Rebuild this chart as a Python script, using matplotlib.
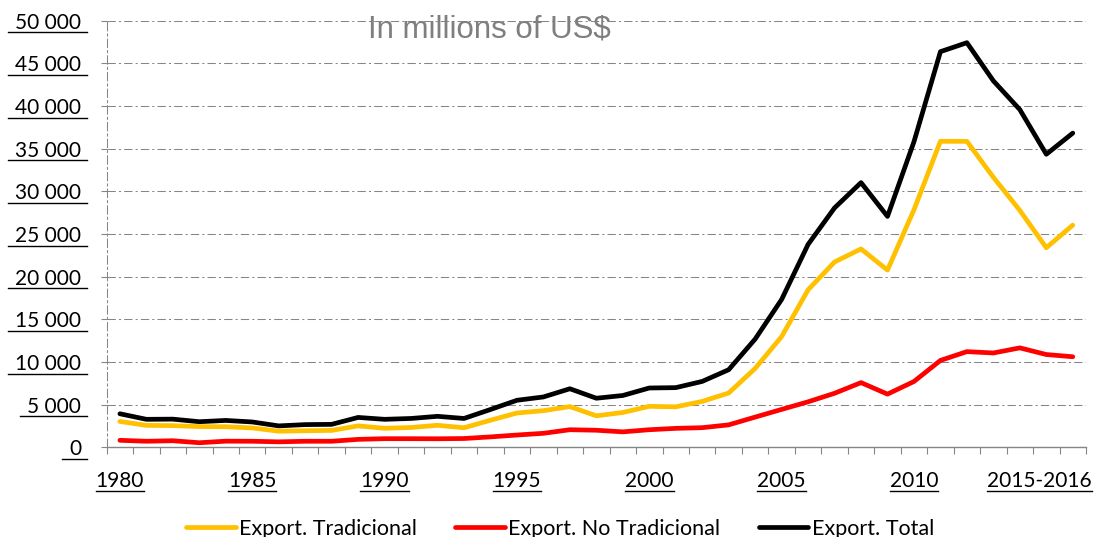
import matplotlib
matplotlib.use("Agg")
import matplotlib.pyplot as plt
from matplotlib.lines import Line2D
from matplotlib.ticker import FuncFormatter, FixedLocator
from matplotlib.transforms import ScaledTranslation

plt.rcParams['font.family'] = ['Lato', 'DejaVu Sans']

# Exportaciones por tipo, millones de US$
years = list(range(1980, 2017))
total = [3950, 3300, 3320, 3020, 3170, 2990, 2530, 2680, 2710, 3520,
         3300, 3400, 3650, 3400, 4450, 5530, 5920, 6880, 5770, 6090,
         6970, 7010, 7740, 9110, 12700, 17340, 23790, 28070, 31030, 27070,
         35820, 46370, 47420, 42950, 39580, 34350, 36830]
tradicional = [3050, 2590, 2560, 2450, 2430, 2290, 1910, 1960, 2000, 2530,
               2250, 2340, 2600, 2310, 3190, 4040, 4310, 4790, 3710, 4100,
               4820, 4760, 5400, 6380, 9260, 12990, 18470, 21730, 23260, 20780,
               27850, 35870, 35860, 31650, 27770, 23400, 26050]
no_tradicional = [840, 730, 790, 555, 740, 730, 660, 730, 730, 950,
                  1030, 1030, 1020, 1050, 1240, 1460, 1660, 2080, 2020, 1830,
                  2080, 2240, 2320, 2650, 3560, 4460, 5350, 6350, 7600, 6250,
                  7730, 10200, 11230, 11070, 11670, 10890, 10630]

label_years = [1980, 1985, 1990, 1995, 2000, 2005, 2010, 2015]
label_texts = ['1980', '1985', '1990', '1995', '2000', '2005', '2010', '2015-2016']

fig = plt.figure(figsize=(10.94, 5.37), dpi=100)
ax = fig.add_axes([0.0975, 0.1667, 0.8952, 0.7948])

x = list(range(len(years)))
lw = 3.4
ax.plot(x, tradicional, color='#FFC000', lw=lw, label='Export. Tradicional', solid_capstyle='round')
ax.plot(x, no_tradicional, color='#FF0000', lw=lw, label='Export. No Tradicional', solid_capstyle='round')
ax.plot(x, total, color='#000000', lw=lw, label='Export. Total', solid_capstyle='round')

ax.set_xlim(-0.5, len(years) - 0.5)
ax.set_ylim(0, 50000)
ax.set_yticks(range(0, 50001, 5000))
ax.yaxis.set_major_formatter(FuncFormatter(lambda v, p: f"{v:,.0f}".replace(",", " ")))

pos = [years.index(y) for y in label_years]
ax.xaxis.set_major_locator(FixedLocator(pos))
ax.set_xticklabels(label_texts)
ax.xaxis.set_minor_locator(FixedLocator([i - 0.5 for i in range(len(years) + 1)]))
ax.tick_params(axis='x', which='major', length=0, pad=17, labelsize=15)
ax.tick_params(axis='x', which='minor', length=5, width=0.8, color='#868686', direction='out')
ax.tick_params(axis='y', length=4.3, width=0.8, color='#868686', pad=14, labelsize=15)

ax.grid(axis='y', color='#868686', lw=0.75, linestyle=(0, (8, 3, 2, 3)))
ax.set_axisbelow(True)
for s in ['top', 'right']:
    ax.spines[s].set_visible(False)
ax.spines['bottom'].set_color('#868686')
ax.spines['bottom'].set_linewidth(1)
ax.spines['left'].set_color('#868686')
ax.spines['left'].set_linewidth(0.75)
ax.spines['left'].set_linestyle((0, (8, 3, 2, 3)))

fig.text(489.5 / 1094, 1 - 38 / 537, 'In millions of US$', ha='center', va='baseline',
         fontsize=22.5, color='#7F7F7F', family=['Liberation Sans', 'DejaVu Sans'])

fig.legend(loc='center', bbox_to_anchor=(560 / 1094, 1 - 529 / 537), ncol=3,
           frameon=False, fontsize=15.5, handlelength=2.3, handletextpad=0.15,
           columnspacing=1.8, borderaxespad=0, borderpad=0)

# la ultima etiqueta se corre un poco a la izquierda, como en el original
last = ax.get_xticklabels()[-1]
last.set_transform(last.get_transform() + ScaledTranslation(-5 / 72, 0, fig.dpi_scale_trans))

# subrayado de etiquetas (como en el original)
fig.canvas.draw()
r = fig.canvas.get_renderer()
inv = fig.transFigure.inverted()
for lab in ax.get_xticklabels():
    if lab.get_text():
        bb = lab.get_window_extent(r)
        (a, b), (c, d) = inv.transform([(bb.x0, bb.y0 + 0.5), (bb.x1, bb.y0 + 0.5)])
        fig.add_artist(Line2D([a, c], [b, d], color='black', lw=1.0))
for lab in ax.get_yticklabels():
    if lab.get_text():
        bb = lab.get_window_extent(r)
        (a, b), (c, d) = inv.transform([(bb.x0 - 7, bb.y0 + 0.5), (bb.x1 + 5.5, bb.y0 + 0.5)])
        fig.add_artist(Line2D([a, c], [b, d], color='black', lw=1.0))

fig.savefig('out.png', dpi=100)
